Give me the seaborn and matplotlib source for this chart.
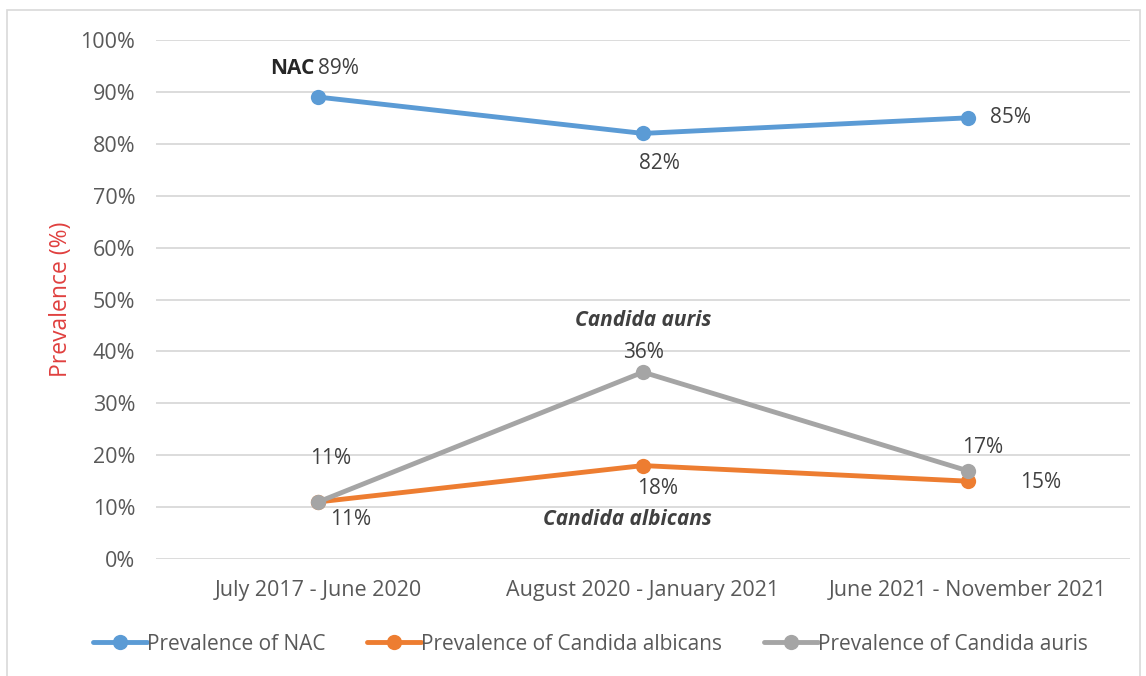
import matplotlib
matplotlib.use("Agg")
import matplotlib.pyplot as plt
import seaborn as sns
import pandas as pd
from matplotlib.patches import Rectangle
from matplotlib.ticker import PercentFormatter

periods = ["July 2017 - June 2020", "August 2020 - January 2021", "June 2021 - November 2021"]
nac = [89, 82, 85]
albicans = [11, 18, 15]
auris = [11, 36, 17]
series_names = ["Prevalence of NAC", "Prevalence of Candida albicans", "Prevalence of Candida auris"]
colors = ["#5B9BD5", "#ED7D31", "#A5A5A5"]

sns.set_theme(style="white")
plt.rcParams["font.family"] = ["Open Sans", "DejaVu Sans"]

rows = []
for name, vals in zip(series_names, [nac, albicans, auris]):
    for i, v in enumerate(vals):
        rows.append({"idx": i, "value": v, "series": name})
df = pd.DataFrame(rows)

fig = plt.figure(figsize=(11.46, 6.76), dpi=100)
ax = fig.add_axes([156/1146, 1-559/676, (1130-156)/1146, (559-40)/676])

sns.lineplot(data=df, x="idx", y="value", hue="series", palette=colors,
             hue_order=series_names, marker="o", markersize=11, linewidth=3.5,
             markeredgewidth=0, ax=ax, legend=True, zorder=3)

ax.set_xlim(-0.5, 2.5)
ax.set_ylim(0, 100)
ax.set_yticks(range(0, 101, 10))
ax.yaxis.set_major_formatter(PercentFormatter(decimals=0))
ax.set_xticks(range(len(periods)))
ax.set_xticklabels(periods)
ax.tick_params(axis="both", colors="#595959", labelsize=15.5, length=0)
ax.tick_params(axis="y", pad=15)
ax.tick_params(axis="x", pad=15)
ax.grid(axis="y", color="#D9D9D9", linewidth=1.3, zorder=0)
ax.set_axisbelow(True)
for s in ax.spines.values():
    s.set_visible(False)
ax.set_xlabel("")
ax.set_ylabel("Prevalence (%)", color="#E0403F", fontsize=16.5, labelpad=5)

leg = ax.legend(loc="center", bbox_to_anchor=(0.446, -0.164), ncol=3, frameon=False,
                fontsize=15, handlelength=2.6, handletextpad=0.0, columnspacing=2.0,
                labelcolor="#595959")

tc = "#404040"
fs = 15
def lab(x, y, s, dx, dy, **kw):
    ax.annotate(s, (x, y), xytext=(dx, dy), textcoords="offset pixels",
                ha="center", va="center", fontsize=fs, color=tc, **kw)

# NAC labels
ax.annotate("NAC", (0, nac[0]), xytext=(-26, 29), textcoords="offset pixels",
            ha="center", va="center", fontsize=fs, color="#262626", fontweight="bold")
lab(0, nac[0], f"{nac[0]}%", 20, 29)
lab(1, nac[1], f"{nac[1]}%", 16, -30)
lab(2, nac[2], f"{nac[2]}%", 43, 0)
# auris
lab(1, auris[1], "Candida auris", 0, 52, fontweight="bold", style="italic")
lab(1, auris[1], f"{auris[1]}%", 0, 20)
lab(0, auris[0], f"{auris[0]}%", 12, 43)
lab(2, auris[2], f"{auris[2]}%", 15, 23)
# albicans
lab(0, albicans[0], f"{albicans[0]}%", 32, -18)
lab(1, albicans[1], f"{albicans[1]}%", 15, -23)
lab(1, albicans[1], "Candida albicans", -16, -54, fontweight="bold", style="italic")
lab(2, albicans[2], f"{albicans[2]}%", 73, -1)

fig.patches.append(Rectangle((7/1146, -0.01), (1140-7)/1146, 1-10/676+0.01,
                             transform=fig.transFigure, fill=False,
                             edgecolor="#D9D9D9", linewidth=1.2))

fig.savefig("out.png", dpi=100)
